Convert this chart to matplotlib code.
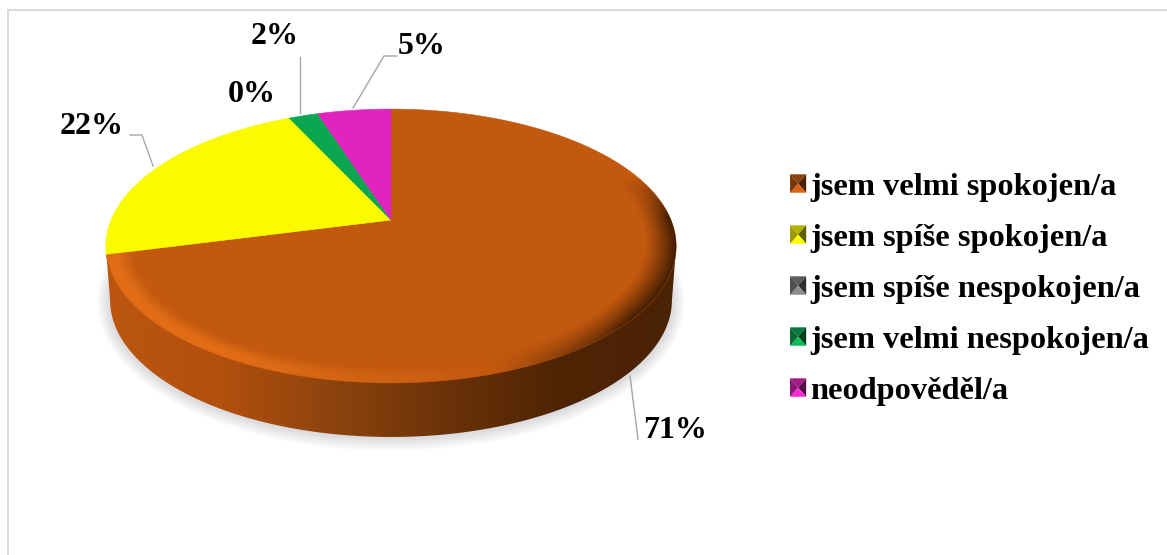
import numpy as np
import matplotlib
matplotlib.use("Agg")
import matplotlib.pyplot as plt
from matplotlib.colors import to_rgb, LinearSegmentedColormap
from matplotlib.legend_handler import HandlerPatch
from matplotlib.patches import Polygon, Rectangle, Ellipse
from matplotlib.path import Path
from matplotlib.transforms import Affine2D, Transform

categories = ["jsem velmi spokojen/a", "jsem spíše spokojen/a", "jsem spíše nespokojen/a",
              "jsem velmi nespokojen/a", "neodpověděl/a"]
values = [71, 22, 0, 2, 5]
value_labels = ["71%", "22%", "0%", "2%", "5%"]
colors = ["#C3590F", "#FBFB00", "#7F7F7F", "#0BA650", "#E024BD"]

W, H = 1167, 555
CX, CY, RX, RY, K = 391.0, 220.0, 280.0, 132.0, 0.19
DEPTH = 54

plt.rcParams["font.family"] = ["Liberation Serif", "DejaVu Serif"]
fig = plt.figure(figsize=(W / 100, H / 100), dpi=100, facecolor="white")
ax = fig.add_axes([0, 0, 1, 1])


class Tilt(Transform):
    """Perspective view of the unit pie plane, in pixel coordinates."""
    input_dims = output_dims = 2

    def transform_non_affine(self, xy):
        xy = np.asarray(xy, float)
        w = 1 + K * xy[:, 1]
        return np.column_stack([CX + RX * xy[:, 0] / w, CY - RY * xy[:, 1] / w])

    def transform_path_non_affine(self, path):
        scaled = path.transformed(Affine2D().scale(2000))
        polys = scaled.to_polygons(closed_only=False)
        verts = self.transform_non_affine(np.vstack(polys) / 2000)
        return Path(verts)


tilt = Tilt()
wedges, _ = ax.pie(values, colors=colors, startangle=90, counterclock=False,
                   wedgeprops={"linewidth": 0})
ax.set_aspect("auto")
ax.set_axis_off()
for w, val, col in zip(wedges, values, colors):
    w.set_transform(tilt + ax.transData)
    w.set_zorder(5)
    if val > 0:
        w.set_edgecolor(col)
        w.set_linewidth(0.4)

t = np.linspace(0, 2 * np.pi, 1441)
rim = tilt.transform_non_affine(np.column_stack([np.cos(t), np.sin(t)]))

# frame (top and left only)
ax.add_patch(Rectangle((7, 9), 2, H, fc="#DADADA", ec="none", zorder=0))
ax.add_patch(Rectangle((7, 9), W, 2, fc="#DADADA", ec="none", zorder=0))

# soft ground shadow
for grow in np.linspace(13, 0, 13):
    ax.add_patch(Ellipse((391, 302), 2 * (281 + grow), 2 * (136 + grow),
                         fc="#9A9AA2", alpha=0.028, ec="none", zorder=1))

# side wall
side_bot = rim.copy()
side_bot[:, 1] += DEPTH
side_bot[:, 0] = CX + (side_bot[:, 0] - CX) * 0.985
left, right = np.argmin(rim[:, 0]), np.argmax(rim[:, 0])
lower = np.arange(left, right + 1) if left < right else np.r_[left:len(rim), 0:right + 1]
wall = np.vstack([rim[[lower[0]]], side_bot[lower], rim[[lower[-1]]], [[CX, CY]]])
wall_patch = Polygon(wall, closed=True, fc="none", ec="none", zorder=2)
ax.add_patch(wall_patch)
grad_cmap = LinearSegmentedColormap.from_list(
    "wall", ["#BC560F", "#B2500E", "#8C430D", "#6A3208", "#4E2404", "#4A2204"])
im = ax.imshow(np.linspace(0, 1, 300)[None, :], extent=[106, 677, 460, 240], cmap=grad_cmap,
               aspect="auto", zorder=3, interpolation="bilinear")
im.set_clip_path(wall_patch)

# bevel lighting on the top face
gx, gy = np.meshgrid(np.arange(90, 700, dtype=float), np.arange(100, 400, dtype=float))
yy = (CY - gy) / RY
v = yy / (1 - K * yy)
w_ = 1 + K * v
u = (gx - CX) / RX * w_
r = np.hypot(u, v)
front = np.clip((0.35 - v) / 0.5, 0, 1)
q = (0.30 - u) * front
glow = np.sin(np.clip((r - 0.91) / 0.10, 0, 1) * np.pi * 0.72) ** 1.5
shade = np.clip((r - 0.89) / 0.11, 0, 1) ** 1.2
bright = np.clip(q * 1.3, 0, 1) * glow
dark = np.clip(-q * 2.2, 0, 1) * shade
rgba = np.zeros(gx.shape + (4,))
rgba[..., :3] = np.where((q > 0)[..., None], np.array(to_rgb("#F0761A")), np.array(to_rgb("#3E1B02")))
rgba[..., 3] = np.maximum(bright * 0.7, dark)
rgba[..., 3] = np.where(r > 1.03, 0, rgba[..., 3])
bev = ax.imshow(rgba, extent=[90, 700, 400, 100], aspect="auto", zorder=6, interpolation="bilinear")
bev.set_clip_path(wedges[0])

ax.set_xlim(0, W)
ax.set_ylim(H, 0)

# value labels and leader lines
label_xy = [(675, 430), (92, 126), (252, 94), (275, 36), (422, 47)]
leaders = [[(630, 376), (638, 439)], [(130, 135), (142, 135), (153, 166)], None,
           [(300, 57), (300, 113)], [(397, 56), (384, 56), (353, 108)]]
for lab, (x, y), ld in zip(value_labels, label_xy, leaders):
    ax.text(x, y, lab, ha="center", va="center", fontsize=23, fontweight="bold", color="black", zorder=8)
    if ld:
        xs, ys = zip(*ld)
        ax.plot(xs, ys, color="#A6A6A6", lw=1.0, zorder=7, solid_joinstyle="miter")


class PyramidHandler(HandlerPatch):
    def create_artists(self, legend, orig, xd, yd, width, height, fontsize, trans):
        x0, y0 = -xd, -yd
        c = np.array(to_rgb(orig.get_facecolor()))
        cen = (x0 + width / 2, y0 + height / 2)
        a, b = (x0, y0), (x0 + width, y0)
        d, e = (x0 + width, y0 + height), (x0, y0 + height)
        parts = [([e, d, cen], 0.72), ([d, b, cen], 0.38), ([b, a, cen], 1.12), ([a, e, cen], 0.62)]
        return [Polygon(pts, closed=True, fc=np.clip(c * f, 0, 1), ec="none", transform=trans)
                for pts, f in parts]


handles = [Rectangle((0, 0), 1, 1, fc=c) for c in colors]
leg = ax.legend(handles, categories, loc="upper left", bbox_to_anchor=(790 / W, 1 - 173 / H),
                bbox_transform=ax.transAxes, frameon=False, borderpad=0, borderaxespad=0,
                labelspacing=0.68, handlelength=0.5, handleheight=0.5, handletextpad=0.13,
                handler_map={Rectangle: PyramidHandler()},
                prop={"family": "Liberation Serif", "weight": "bold", "size": 23.3})
leg.set_zorder(9)

fig.savefig("out.png", dpi=100, facecolor="white")
